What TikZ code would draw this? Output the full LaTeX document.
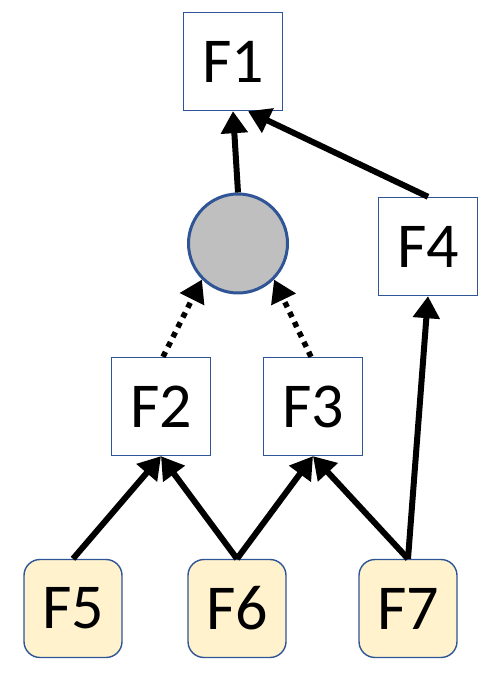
\documentclass[tikz,border=0pt]{standalone}
\usepackage{fontspec}
\setmainfont{Carlito}
\usetikzlibrary{arrows.meta}
\definecolor{boxblue}{HTML}{2F5597}
\definecolor{leafyellow}{HTML}{FFF2CC}
\definecolor{hidgray}{HTML}{BFBFBF}
\begin{document}
\begin{tikzpicture}[x=1pt,y=1pt,
  every node/.style={font=\fontsize{64}{70}\selectfont, inner sep=0pt},
  factor/.style={draw=boxblue, line width=1.4pt, fill=white, minimum width=99pt, minimum height=98pt},
  leaf/.style={draw=boxblue, line width=1.4pt, fill=leafyellow, rounded corners=16pt, minimum width=98pt, minimum height=98pt},
  hidden/.style={circle, draw=boxblue, line width=3pt, fill=hidgray, minimum size=99pt},
  link/.style={line width=6pt, -{Triangle[length=22pt,width=26pt]}},
  dotlink/.style={line width=5.5pt, dash pattern=on 5.5pt off 5.5pt, -{Triangle[length=22pt,width=26pt]}}
]
\useasboundingbox (0,0) rectangle (499,687);
\node[factor] (F1) at (233,625.5) {F1};
\node[hidden] (C) at (238,443.5) {};
\node[factor] (F4) at (428,440.5) {F4};
\node[factor] (F2) at (161,280.5) {F2};
\node[factor] (F3) at (313,280.5) {F3};
\node[leaf] (F5) at (73,78.5) {F5};
\node[leaf] (F6) at (237,78.5) {F6};
\node[leaf] (F7) at (408,78.5) {F7};

\draw[link] (C.north) -- (F1.south);
\draw[link] (F4.north) -- ([xshift=15pt]F1.south);
\draw[dotlink] ([xshift=2pt]F2.north) -- (C.225);
\draw[dotlink] ([xshift=-2pt]F3.north) -- (C.-45);
\draw[link] (F5.north) -- (F2.south);
\draw[link] (F6.north) -- (F2.south);
\draw[link] (F6.north) -- (F3.south);
\draw[link] (F7.north) -- (F3.south);
\draw[link] (F7.north) -- (F4.south);
\end{tikzpicture}
\end{document}
